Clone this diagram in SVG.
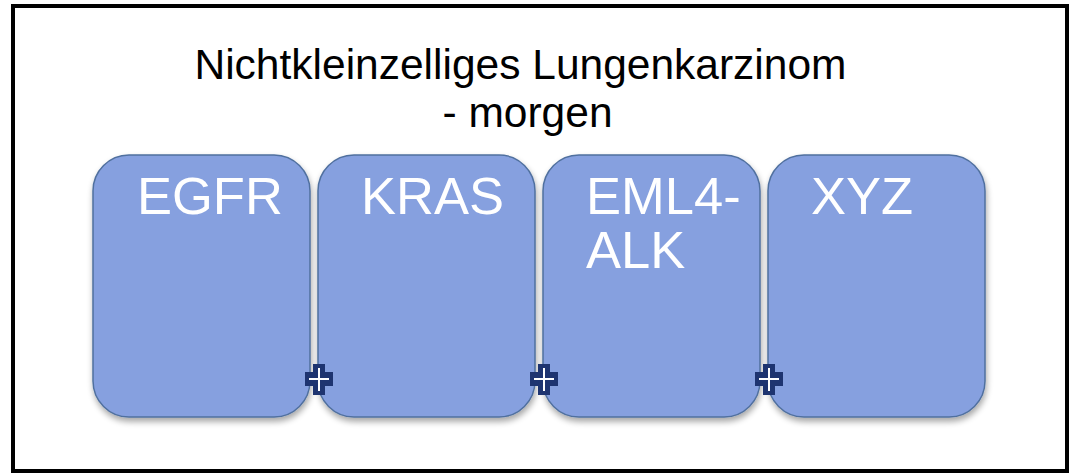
<svg xmlns="http://www.w3.org/2000/svg" width="1070" height="475" viewBox="0 0 1070 475">
  <defs>
    <filter id="shadow" x="-10%" y="-10%" width="130%" height="130%">
      <feGaussianBlur in="SourceAlpha" stdDeviation="3"/>
      <feOffset dx="1" dy="4" result="b"/>
      <feComponentTransfer><feFuncA type="linear" slope="0.35"/></feComponentTransfer>
      <feMerge><feMergeNode/><feMergeNode in="SourceGraphic"/></feMerge>
    </filter>
    <g id="plus">
      <path d="M-6,-15 H6 V-7 H14 V7 H6 V16 H-6 V7 H-14 V-7 H-6 Z" fill="#1E3470"/>
      <path d="M0,-11 V12 M-10,0 H10" stroke="#ffffff" stroke-width="2"/>
    </g>
  </defs>
  <style>
    .title { font-family: "Liberation Sans", Arial, sans-serif; font-size: 42.5px; fill: #000; text-anchor: middle; }
    .card { fill: #86A0DF; stroke: #50709F; stroke-width: 1.5; filter: url(#shadow); }
    .label { font-family: "Liberation Sans", Arial, sans-serif; font-size: 52.5px; fill: #ffffff; }
  </style>
  <rect x="13" y="6" width="1054" height="465" fill="#ffffff" stroke="#000000" stroke-width="4"/>
  <g id="title">
    <text class="title" x="520.5" y="79">Nichtkleinzelliges Lungenkarzinom</text>
    <text class="title" x="527.5" y="127">- morgen</text>
  </g>
  <g id="node-egfr">
    <rect class="card" x="93" y="155" width="217" height="262" rx="36"/>
    <text class="label" x="137" y="214">EGFR</text>
  </g>
  <g id="node-kras">
    <rect class="card" x="318" y="155" width="217" height="262" rx="36"/>
    <text class="label" x="361" y="214">KRAS</text>
  </g>
  <g id="node-eml4-alk">
    <rect class="card" x="543" y="155" width="217" height="262" rx="36"/>
    <text class="label" x="586" y="214">EML4-</text>
    <text class="label" x="586" y="268">ALK</text>
  </g>
  <g id="node-xyz">
    <rect class="card" x="768" y="155" width="217" height="262" rx="36"/>
    <text class="label" x="811" y="214">XYZ</text>
  </g>
  <g id="connectors">
    <use href="#plus" x="319" y="379"/>
    <use href="#plus" x="544" y="379"/>
    <use href="#plus" x="769" y="379"/>
  </g>
</svg>
